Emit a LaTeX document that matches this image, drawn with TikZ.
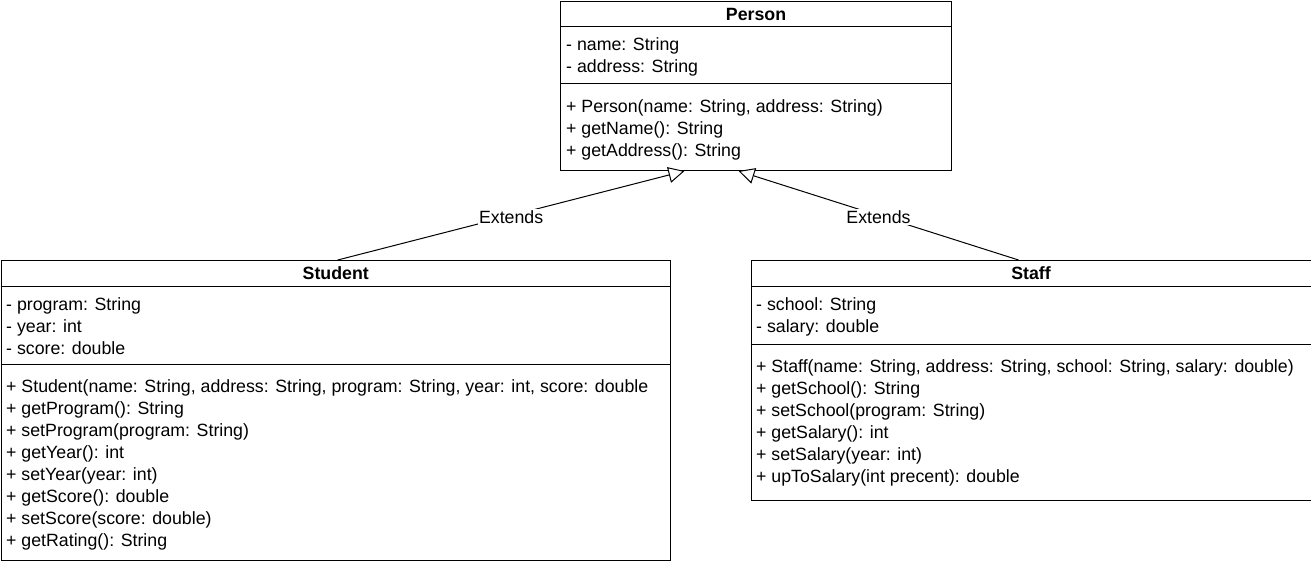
\documentclass[tikz,border=0pt]{standalone}
\usepackage{fontspec}
\setmainfont{Liberation Sans}
\usetikzlibrary{arrows.meta}

\begin{document}
\begin{tikzpicture}[x=1pt, y=-1pt,
  classbox/.style={draw, line width=1pt, inner sep=0pt, anchor=north west},
  classname/.style={font=\fontsize{17.75}{22}\selectfont\bfseries, inner sep=0pt},
  member/.style={font=\fontsize{17.75}{22}\selectfont, inner sep=0pt, anchor=base west},
  extends/.style={line width=1pt, -{Triangle[fill=white, length=16pt, width=16pt]}},
  elabel/.style={font=\fontsize{17.75}{22}\selectfont, fill=white, inner sep=1pt, yshift=-1.5pt}]
  \useasboundingbox (0,0) rectangle (1311,564);

  % Person
  \node[classbox, minimum width=391pt, minimum height=169pt] (person) at (560,1) {};
  \node[classname] (person-name) at ([yshift=-13pt]person.north) {Person};
  \draw[line width=1pt] ([yshift=-26pt]person.north west) -- ([yshift=-26pt]person.north east);
  \draw[line width=1pt] ([yshift=-83pt]person.north west) -- ([yshift=-83pt]person.north east);
  \foreach \txt [count=\i from 0] in {- name: String, - address: String}
    \node[member] (person-a\i) at (566,50.5+22*\i) {\txt};
  \foreach \txt [count=\i from 0] in {{+ Person(name: String, address: String)},
      + getName(): String, + getAddress(): String}
    \node[member] (person-m\i) at (566,113+22*\i) {\txt};

  % Student
  \node[classbox, minimum width=669.5pt, minimum height=300pt] (student) at (0.5,260) {};
  \node[classname] (student-name) at ([yshift=-13pt]student.north) {Student};
  \draw[line width=1pt] ([yshift=-26pt]student.north west) -- ([yshift=-26pt]student.north east);
  \draw[line width=1pt] ([yshift=-104pt]student.north west) -- ([yshift=-104pt]student.north east);
  \foreach \txt [count=\i from 0] in {- program: String, - year: int, - score: double}
    \node[member] (student-a\i) at (6,310+22*\i) {\txt};
  \foreach \txt [count=\i from 0] in
      {{+ Student(name: String, address: String, program: String, year: int, score: double},
      + getProgram(): String, + setProgram(program: String), + getYear(): int,
      + setYear(year: int), + getScore(): double, + setScore(score: double),
      + getRating(): String}
    \node[member] (student-m\i) at (6,392+22*\i) {\txt};

  % Staff
  \node[classbox, minimum width=560pt, minimum height=240pt] (staff) at (750.5,260) {};
  \node[classname] (staff-name) at ([yshift=-13pt]staff.north) {Staff};
  \draw[line width=1pt] ([yshift=-26pt]staff.north west) -- ([yshift=-26pt]staff.north east);
  \draw[line width=1pt] ([yshift=-84pt]staff.north west) -- ([yshift=-84pt]staff.north east);
  \foreach \txt [count=\i from 0] in {- school: String, - salary: double}
    \node[member] (staff-a\i) at (756,310+22*\i) {\txt};
  \foreach \txt [count=\i from 0] in
      {{+ Staff(name: String, address: String, school: String, salary: double)},
      + getSchool(): String, + setSchool(program: String), + getSalary(): int,
      + setSalary(year: int), + upToSalary(int precent): double}
    \node[member] (staff-m\i) at (756,372+22*\i) {\txt};

  % Inheritance
  \draw[extends] ([xshift=2pt]student.north) -- node[elabel] (ext-student) {Extends}
    ([xshift=-71.5pt]person.south);
  \draw[extends] ([xshift=-12.5pt]staff.north) -- node[elabel] (ext-staff) {Extends}
    ([xshift=-17.5pt]person.south);
\end{tikzpicture}
\end{document}
